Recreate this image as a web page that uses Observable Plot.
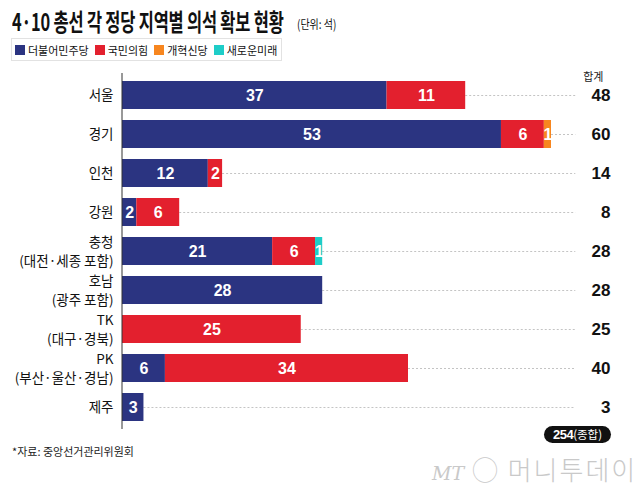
<!DOCTYPE html>
<html><head><meta charset="utf-8">
<script src="https://cdn.jsdelivr.net/npm/d3@7"></script>
<script src="https://cdn.jsdelivr.net/npm/@observablehq/plot@0.6"></script>
<style>
body{margin:0;background:#fff;width:640px;height:492px;position:relative;overflow:hidden;font-family:"Noto Sans CJK KR","Noto Sans",sans-serif;color:#111;}
#title{position:absolute;left:12px;top:3px;white-space:nowrap;transform-origin:left top;transform:scaleX(0.685);font-size:24px;font-weight:700;letter-spacing:-0.3px;}
#unit{position:absolute;left:297px;top:14px;white-space:nowrap;transform-origin:left top;transform:scaleX(0.8);font-size:12.5px;}
#legend{position:absolute;left:11px;top:38px;height:21px;border:1px solid #e2e2e2;display:flex;align-items:center;padding:0 4px 0 3px;white-space:nowrap;font-size:11px;}
#legend .item{display:flex;align-items:center;margin-right:6px;}
#legend .item:last-child{margin-right:0;}
#legend .sw{width:10px;height:10px;margin-right:3px;}
#chart{position:absolute;left:0;top:62px;}
#source{position:absolute;left:12px;top:443px;font-size:11px;color:#222;}
#grand{position:absolute;left:544px;top:426px;width:67px;height:17px;border-radius:9px;background:#111;color:#fff;text-align:center;line-height:17px;font-size:11.5px;white-space:nowrap;}
#grand b{font-family:"Liberation Sans",sans-serif;font-size:13px;letter-spacing:-0.5px;}
#logo{position:absolute;left:432px;top:450px;font-size:26px;color:#c9c9c9;white-space:nowrap;letter-spacing:2px;font-weight:300;}
#logo i{font-family:"DejaVu Serif",serif;font-size:19px;letter-spacing:0;}
</style></head><body>
<div id="title">4·10 총선 각 정당 지역별 의석 확보 현황</div>
<div id="unit">(단위: 석)</div>
<div id="legend"></div>
<div id="chart"></div>
<div id="source">*자료: 중앙선거관리위원회</div>
<div id="grand"></div>
<div id="logo"><i>MT</i> ◯ 머니투데이</div>
<script>
const regions = ["서울","경기","인천","강원","충청","호남","TK","PK","제주"];
const regionNotes = ["","","","","(대전·세종 포함)","(광주 포함)","(대구·경북)","(부산·울산·경남)",""];
const parties = ["더불어민주당","국민의힘","개혁신당","새로운미래"];
const partyColors = ["#2b3481","#e3202e","#f7861f","#1ecdc8"];
const seatsDemocratic = [37,53,12,2,21,28,0,6,3];
const seatsPPP = [11,6,2,6,6,0,25,34,0];
const seatsReform = [0,1,0,0,0,0,0,0,0];
const seatsNewFuture = [0,0,0,0,1,0,0,0,0];
const seriesValues = [seatsDemocratic, seatsPPP, seatsReform, seatsNewFuture];

const rows = [];
parties.forEach((p, i) => regions.forEach((r, j) => {
  if (seriesValues[i][j] > 0) rows.push({region: r, party: p, seats: seriesValues[i][j]});
}));
const totals = regions.map((r, j) => ({region: r, total: d3.sum(seriesValues, s => s[j])}));
const grandTotal = d3.sum(totals, d => d.total);
const labelRows = regions.map((r, j) => ({region: r, note: regionNotes[j]}));
const singleLabels = labelRows.filter(d => !d.note);
const doubleLabels = labelRows.filter(d => d.note);

const numFont = '"Liberation Sans",Arial,sans-serif';
const lblFont = '"Noto Sans CJK KR",sans-serif';

// legend
const lg = document.getElementById("legend");
parties.forEach((p, i) => {
  const it = document.createElement("div"); it.className = "item";
  it.innerHTML = `<span class="sw" style="background:${partyColors[i]}"></span><span>${p}</span>`;
  lg.appendChild(it);
});
document.getElementById("grand").innerHTML = `<b>${grandTotal}</b>(종합)`;

const lbl = {x: () => 0, dx: -9, textAnchor: "end", fontSize: 13.5, fill: "#111", fontFamily: lblFont};

const chart = Plot.plot({
  width: 640, height: 385,
  marginLeft: 122, marginRight: 89, marginTop: 11, marginBottom: 18,
  x: {domain: [0, 60], axis: null},
  y: {domain: regions, paddingInner: 0.29, paddingOuter: 0.145, axis: null},
  color: {domain: parties, range: partyColors},
  style: {fontFamily: lblFont, fontSize: "14px", color: "#111", background: "transparent"},
  marks: [
    Plot.text(singleLabels, {...lbl, y: "region", text: "region"}),
    Plot.text(doubleLabels, {...lbl, y: "region", text: "region", dy: -8.5}),
    Plot.text(doubleLabels, {...lbl, y: "region", text: "note", dy: 10.5}),
    Plot.ruleY(totals, {y: "region", x1: "total", x2: 63.4, stroke: "#c4c4c4", strokeDasharray: "2,2", strokeWidth: 1}),
    Plot.barX(rows, Plot.stackX({y: "region", x: "seats", fill: "party"})),
    Plot.text(rows, Plot.stackX({y: "region", x: "seats", z: "party", text: "seats", fill: "white",
      fontWeight: "bold", fontSize: 16, fontFamily: numFont, letterSpacing: -0.3})),
    Plot.ruleX([0], {stroke: "#333", strokeWidth: 1, dx: -0.5}),
    Plot.text(totals, {y: "region", text: "total", frameAnchor: "right", dx: 59, textAnchor: "end",
      fontWeight: "bold", fontSize: 17, fontFamily: numFont, letterSpacing: -0.5, fill: "#111"}),
    Plot.text(["합계"], {frameAnchor: "top-right", dx: 52, dy: 0, fontSize: 11, fill: "#222"})
  ]
});
document.getElementById("chart").appendChild(chart);
</script>
</body></html>
